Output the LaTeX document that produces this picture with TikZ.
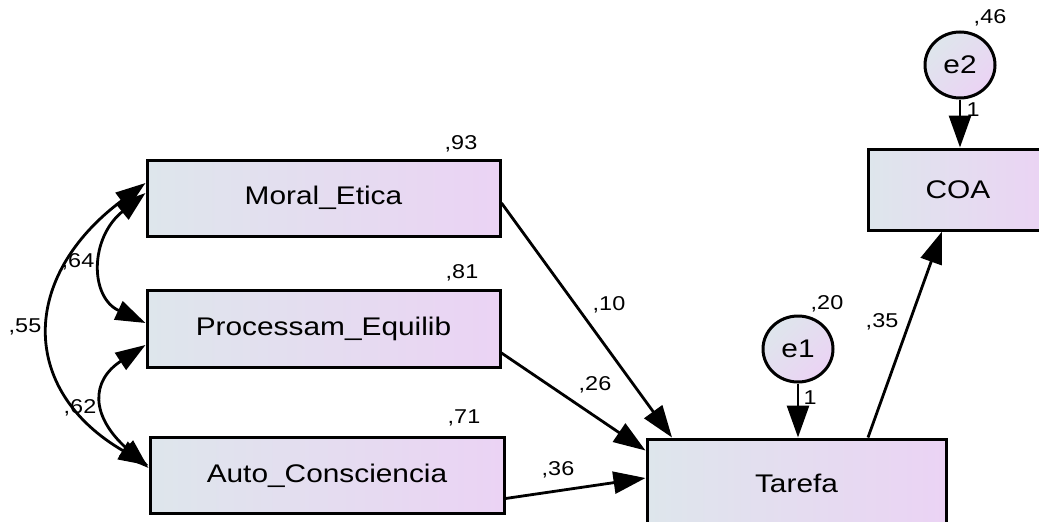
\documentclass[tikz,border=0pt]{standalone}
\usepackage{fontspec}
\setmainfont{Liberation Sans}[FakeStretch=1.17]
\usetikzlibrary{arrows.meta,shapes.geometric}
\pgfdeclarelayer{background}
\pgfsetlayers{background,main}
\definecolor{boxleft}{RGB}{222,230,236}
\definecolor{boxright}{RGB}{235,211,244}
\tikzset{
  obs/.style={draw, line width=3pt, left color=boxleft, right color=boxright, inner sep=0pt, font=\fontsize{25.5}{30}\selectfont},
  err/.style={draw, ellipse, line width=3pt, left color=boxleft, right color=boxright, shading angle=45, inner sep=0pt, minimum width=70pt, minimum height=66pt, font=\fontsize{25.5}{30}\selectfont},
  reg/.style={line width=2.8pt, -{Triangle[length=32pt,width=22pt]}},
  cov/.style={line width=2.8pt, {Triangle[length=30pt,width=20pt]}-{Triangle[length=30pt,width=20pt]}},
  est/.style={font=\fontsize{20}{24}\selectfont, inner sep=0pt}
}

\begin{document}
\begin{tikzpicture}[x=1pt,y=-1pt]
\useasboundingbox (0,0) rectangle (1039,522);
\clip (0,0) rectangle (1039,522);
\node[obs, minimum width=353pt, minimum height=76pt] (moral) at (323.5,198) {Moral\_Etica};
\node[obs, minimum width=353pt, minimum height=77pt] (proc) at (323.5,328.5) {Processam\_Equilib};
\node[obs, minimum width=354pt, minimum height=76pt] (auto) at (327,475.5) {Auto\_Consciencia};
\node[obs, minimum width=299pt, minimum height=88pt] (tarefa) at (796.5,483) {Tarefa};
\node[obs, minimum width=180pt, minimum height=81pt] (coa) at (958,189.5) {COA};
\node[err] (e1) at (798,349) {e1};
\node[err] (e2) at (960,65) {e2};
\node[est] (v93) at (461,144) {,93};
\node[est] (v81) at (462,273) {,81};
\node[est] (v71) at (464,418) {,71};
\node[est] (v20) at (827,304) {,20};
\node[est] (v46) at (990,18) {,46};
\node[est] (c64) at (78,262) {,64};
\node[est] (c55) at (25,327) {,55};
\node[est] (c62) at (80,408) {,62};
\node[est] (w10) at (609,305) {,10};
\node[est] (w26) at (595,385) {,26};
\node[est] (w36) at (558,470) {,36};
\node[est] (w35) at (882,322) {,35};
\node[est] (one1) at (810,398) {1};
\node[est] (one2) at (973,110) {1};
\begin{pgfonlayer}{background}
\draw[reg] ([yshift=-5pt]moral.east) -- ([xshift=-124.5pt]tarefa.north);
\draw[reg] ([yshift=-24.5pt]proc.east) -- ([yshift=-13pt]tarefa.north west);
\draw[reg] ([yshift=-23pt]auto.east) -- ([yshift=5pt]tarefa.west);
\draw[reg] (e1.south) -- (e1.south |- tarefa.north);
\draw[reg] (e2.south) -- (e2.south |- coa.north);
\draw[reg] ([xshift=71.5pt]tarefa.north) -- ([xshift=-16pt]coa.south);
\draw[cov] ([yshift=15pt]moral.west) .. controls +(-126,94) and +(-129,-75) .. ([yshift=10pt]auto.west);
\draw[cov] ([yshift=5pt]moral.west) .. controls +(-56,45) and +(-56,-26) .. ([yshift=5.5pt]proc.west);
\draw[cov] ([yshift=-16.5pt]proc.west) .. controls +(-55,36) and +(-58,-52) .. ([yshift=7.5pt]auto.west);
\end{pgfonlayer}
\end{tikzpicture}
\end{document}
